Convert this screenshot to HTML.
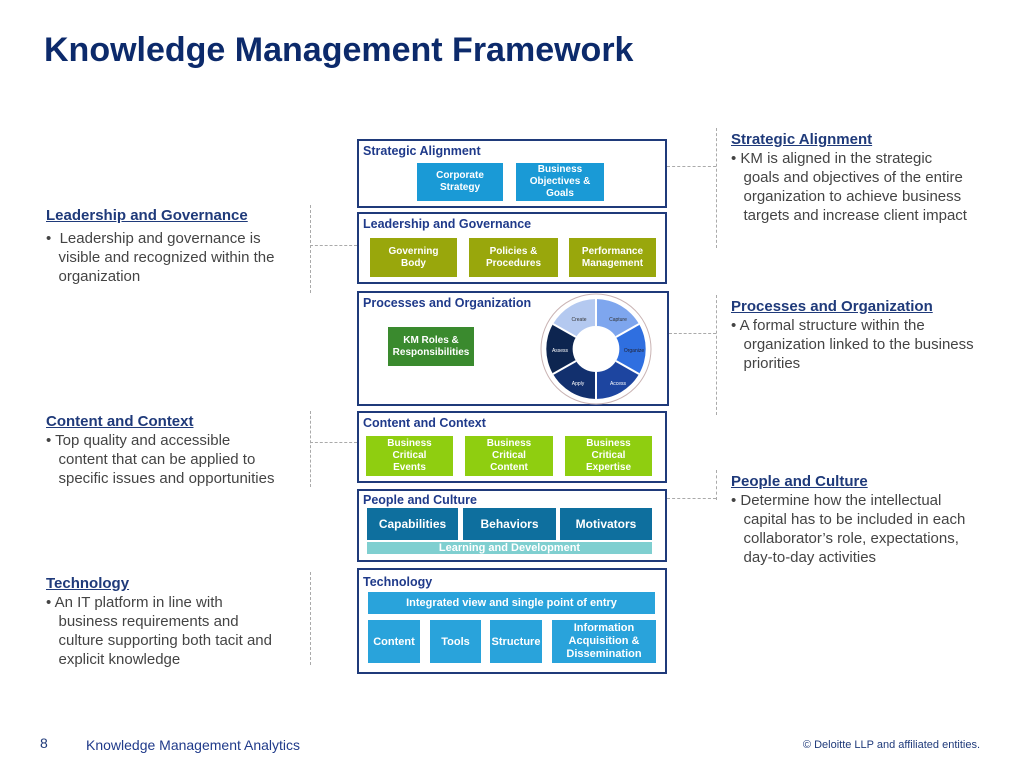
<!DOCTYPE html>
<html><head><meta charset="utf-8"><style>
body{margin:0;width:1024px;height:768px;background:#fff;font-family:"Liberation Sans",sans-serif;position:relative;overflow:hidden}
.a{position:absolute}
.box{position:absolute;border:2px solid #1f3a7a;box-sizing:border-box}
.bt{position:absolute;left:4px;top:3px;color:#1f3a8a;font-weight:bold;font-size:12.5px}
.c{position:absolute;display:flex;align-items:center;justify-content:center;text-align:center;color:#fff;font-weight:bold;font-size:10px;line-height:12px}
.h{position:absolute;color:#1f3a7a;font-weight:bold;font-size:15px;text-decoration:underline}
.t{position:absolute;color:#444;font-size:15px;line-height:19px}
.dv{position:absolute;border-left:1px dashed #aaa;width:0}
.dh{position:absolute;border-top:1px dashed #aaa;height:0}
</style></head><body>
<div class="a" style="left:44px;top:31px;font-size:34px;font-weight:bold;color:#0c2a6b">Knowledge Management Framework</div>

<div class="box" style="left:357px;top:139px;width:310px;height:69px"><div class="bt">Strategic Alignment</div></div>
<div class="c" style="left:417px;top:163px;width:86px;height:38px;background:#1a9ad6">Corporate<br>Strategy</div>
<div class="c" style="left:516px;top:163px;width:88px;height:38px;background:#1a9ad6">Business<br>Objectives &amp;<br>Goals</div>

<div class="box" style="left:357px;top:212px;width:310px;height:72px"><div class="bt">Leadership and Governance</div></div>
<div class="c" style="left:370px;top:238px;width:87px;height:39px;background:#99a70c">Governing<br>Body</div>
<div class="c" style="left:469px;top:238px;width:89px;height:39px;background:#99a70c">Policies &amp;<br>Procedures</div>
<div class="c" style="left:569px;top:238px;width:87px;height:39px;background:#99a70c">Performance<br>Management</div>

<div class="box" style="left:357px;top:291px;width:312px;height:115px"><div class="bt">Processes and Organization</div></div>
<div class="c" style="left:388px;top:327px;width:86px;height:39px;background:#3a8a2e">KM Roles &amp;<br>Responsibilities</div>
<svg class="a" style="left:536px;top:289px" width="120" height="120" viewBox="-60 -60 120 120">
<circle r="55" fill="#fff" stroke="#c9b3b3" stroke-width="1"/>
<path d="M-43,-25 A50,50 0 0 1 0,-50 L0,-23 A23,23 0 0 0 -20,-12Z" fill="#b4c9f0"/>
<path d="M0,-50 A50,50 0 0 1 43,-25 L20,-12 A23,23 0 0 0 0,-23Z" fill="#7ea6ee"/>
<path d="M43,-25 A50,50 0 0 1 43,25 L20,12 A23,23 0 0 0 20,-12Z" fill="#2f6fe0"/>
<path d="M43,25 A50,50 0 0 1 0,50 L0,23 A23,23 0 0 0 20,12Z" fill="#1d45a0"/>
<path d="M0,50 A50,50 0 0 1 -43,25 L-20,12 A23,23 0 0 0 0,23Z" fill="#12306e"/>
<path d="M-43,25 A50,50 0 0 1 -43,-25 L-20,-12 A23,23 0 0 0 -20,12Z" fill="#0d2550"/>
<g stroke="#fff" stroke-width="2"><line x1="0" y1="-23" x2="0" y2="-50"/><line x1="20" y1="-12" x2="43" y2="-25"/><line x1="20" y1="12" x2="43" y2="25"/><line x1="0" y1="23" x2="0" y2="50"/><line x1="-20" y1="12" x2="-43" y2="25"/><line x1="-20" y1="-12" x2="-43" y2="-25"/></g>
<g font-size="5" font-family="Liberation Sans" text-anchor="middle">
<text x="-17" y="-28" fill="#333">Create</text><text x="22" y="-28" fill="#333">Capture</text>
<text x="38" y="3" fill="#223">Organize</text><text x="22" y="36" fill="#fff">Access</text>
<text x="-18" y="36" fill="#fff">Apply</text><text x="-36" y="3" fill="#fff">Assess</text></g>
</svg>

<div class="box" style="left:357px;top:411px;width:310px;height:72px"><div class="bt">Content and Context</div></div>
<div class="c" style="left:366px;top:436px;width:87px;height:40px;background:#8fce10">Business<br>Critical<br>Events</div>
<div class="c" style="left:465px;top:436px;width:88px;height:40px;background:#8fce10">Business<br>Critical<br>Content</div>
<div class="c" style="left:565px;top:436px;width:87px;height:40px;background:#8fce10">Business<br>Critical<br>Expertise</div>

<div class="box" style="left:357px;top:489px;width:310px;height:73px"><div class="bt" style="top:2px">People and Culture</div></div>
<div class="c" style="left:367px;top:508px;width:91px;height:32px;background:#0e6f9e;font-size:12px">Capabilities</div>
<div class="c" style="left:463px;top:508px;width:93px;height:32px;background:#0e6f9e;font-size:12px">Behaviors</div>
<div class="c" style="left:560px;top:508px;width:92px;height:32px;background:#0e6f9e;font-size:12px">Motivators</div>
<div class="c" style="left:367px;top:542px;width:285px;height:12px;background:#7fcfd0;font-size:11px">Learning and Development</div>

<div class="box" style="left:357px;top:568px;width:310px;height:106px"><div class="bt" style="top:5px">Technology</div></div>
<div class="c" style="left:368px;top:592px;width:287px;height:22px;background:#29a3db;font-size:11px">Integrated view and single point of entry</div>
<div class="c" style="left:368px;top:620px;width:52px;height:43px;background:#29a3db;font-size:11px">Content</div>
<div class="c" style="left:430px;top:620px;width:51px;height:43px;background:#29a3db;font-size:11px">Tools</div>
<div class="c" style="left:490px;top:620px;width:52px;height:43px;background:#29a3db;font-size:11px">Structure</div>
<div class="c" style="left:552px;top:620px;width:104px;height:43px;background:#29a3db;font-size:11px;line-height:13px">Information<br>Acquisition &amp;<br>Dissemination</div>

<div class="h" style="left:46px;top:207px">Leadership and Governance</div>
<div class="t" style="left:46px;top:229px">•&nbsp;&nbsp;Leadership and governance is<br>&nbsp;&nbsp;&nbsp;visible and recognized within the<br>&nbsp;&nbsp;&nbsp;organization</div>
<div class="h" style="left:46px;top:413px">Content and Context</div>
<div class="t" style="left:46px;top:431px">• Top quality and accessible<br>&nbsp;&nbsp;&nbsp;content that can be applied to<br>&nbsp;&nbsp;&nbsp;specific issues and opportunities</div>
<div class="h" style="left:46px;top:575px">Technology</div>
<div class="t" style="left:46px;top:593px">• An IT platform in line with<br>&nbsp;&nbsp;&nbsp;business requirements and<br>&nbsp;&nbsp;&nbsp;culture supporting both tacit and<br>&nbsp;&nbsp;&nbsp;explicit knowledge</div>

<div class="h" style="left:731px;top:131px">Strategic Alignment</div>
<div class="t" style="left:731px;top:149px">• KM is aligned in the strategic<br>&nbsp;&nbsp;&nbsp;goals and objectives of the entire<br>&nbsp;&nbsp;&nbsp;organization to achieve business<br>&nbsp;&nbsp;&nbsp;targets and increase client impact</div>
<div class="h" style="left:731px;top:298px">Processes and Organization</div>
<div class="t" style="left:731px;top:316px">• A formal structure within the<br>&nbsp;&nbsp;&nbsp;organization linked to the business<br>&nbsp;&nbsp;&nbsp;priorities</div>
<div class="h" style="left:731px;top:473px">People and Culture</div>
<div class="t" style="left:731px;top:491px">• Determine how the intellectual<br>&nbsp;&nbsp;&nbsp;capital has to be included in each<br>&nbsp;&nbsp;&nbsp;collaborator’s role, expectations,<br>&nbsp;&nbsp;&nbsp;day-to-day activities</div>

<div class="dv" style="left:310px;top:205px;height:88px"></div><div class="dh" style="left:310px;top:245px;width:47px"></div>
<div class="dv" style="left:310px;top:411px;height:76px"></div><div class="dh" style="left:310px;top:442px;width:47px"></div>
<div class="dv" style="left:310px;top:572px;height:93px"></div>
<div class="dv" style="left:716px;top:128px;height:120px"></div><div class="dh" style="left:667px;top:166px;width:49px"></div>
<div class="dv" style="left:716px;top:295px;height:120px"></div><div class="dh" style="left:669px;top:333px;width:47px"></div>
<div class="dv" style="left:716px;top:470px;height:30px"></div><div class="dh" style="left:667px;top:498px;width:49px"></div>

<div class="a" style="left:40px;top:735px;font-size:14px;color:#1f3a7a">8</div>
<div class="a" style="left:86px;top:737px;font-size:14px;color:#1f3a8a">Knowledge Management Analytics</div>
<div class="a" style="right:44px;top:739px;font-size:11px;color:#1f3a7a">© Deloitte LLP and affiliated entities.</div>
</body></html>
